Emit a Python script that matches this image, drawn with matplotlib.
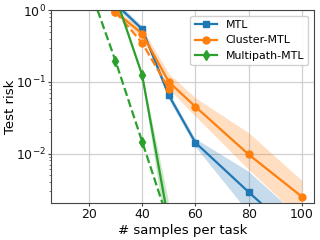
import matplotlib
matplotlib.use("Agg")
import matplotlib.pyplot as plt
import numpy as np

# data
x_mtl = [30, 40, 50, 60, 80, 100]
y_mtl = [1.22, 0.545, 0.065, 0.0142, 0.0029, 0.00062]
lo_mtl = [1.1, 0.50, 0.058, 0.0125, 0.0015, 0.0002]
hi_mtl = [1.35, 0.60, 0.073, 0.0160, 0.0056, 0.0012]

x_cl = [30, 40, 50, 60, 80, 100]
y_cl = [0.94, 0.47, 0.10, 0.045, 0.0097, 0.0025]
lo_cl = [0.88, 0.40, 0.08, 0.033, 0.0060, 0.0012]
hi_cl = [1.0, 0.56, 0.13, 0.060, 0.0195, 0.0042]

x_cl2 = [30, 40, 50]
y_cl2 = [0.94, 0.35, 0.08]

x_mp = [30, 40, 50]
y_mp = [1.55, 0.125, 0.0011]
lo_mp = [1.45, 0.115, 0.0005]
hi_mp = [1.65, 0.135, 0.0022]

x_mp2 = [20, 30, 40, 50]
y_mp2 = [2.2, 0.196, 0.0147, 0.0011]

xticks = [20, 40, 60, 80, 100]

c_b, c_o, c_g = "#1f77b4", "#ff7f0e", "#2ca02c"

fig = plt.figure(figsize=(3.2, 2.4), dpi=100)
ax = fig.add_axes([0.159, 0.154, 0.822, 0.804])

ax.fill_between(x_mtl, lo_mtl, hi_mtl, color=c_b, alpha=0.25, lw=0)
ax.fill_between(x_cl, lo_cl, hi_cl, color=c_o, alpha=0.25, lw=0)
ax.fill_between(x_mp, lo_mp, hi_mp, color=c_g, alpha=0.25, lw=0)

ax.plot(x_mtl, y_mtl, '-s', color=c_b, lw=1.6, ms=5, label='MTL')
ax.plot(x_cl, y_cl, '-o', color=c_o, lw=1.6, ms=5, label='Cluster-MTL')
ax.plot(x_cl2, y_cl2, '--o', color=c_o, lw=1.6, ms=5)
ax.plot(x_mp, y_mp, '-d', color=c_g, lw=1.6, ms=5, label='Multipath-MTL')
ax.plot(x_mp2, y_mp2, '--d', color=c_g, lw=1.6, ms=5)

ax.set_yscale('log')
ax.set_ylim(2.04e-3, 1)
ax.set_xlim(5.75, 104.5)
ax.set_xticks(xticks)
ax.grid(True, which='major', color='#d0d0d0', lw=0.9)
ax.set_axisbelow(True)
ax.tick_params(which='major', labelsize=9, colors='#444444', labelcolor='#111111', length=2, pad=1.5)
ax.tick_params(which='minor', colors='#666666', length=1.5)
for s in ax.spines.values():
    s.set_color('#444444')
ax.set_xlabel('# samples per task', fontsize=9.5, labelpad=2)
ax.set_ylabel('Test risk', fontsize=9.5)
ax.yaxis.set_label_coords(-0.128, 0.5)
ax.legend(loc='upper right', fontsize=7.9, framealpha=0.9, edgecolor='#cccccc')

fig.savefig('out.png', dpi=100)
